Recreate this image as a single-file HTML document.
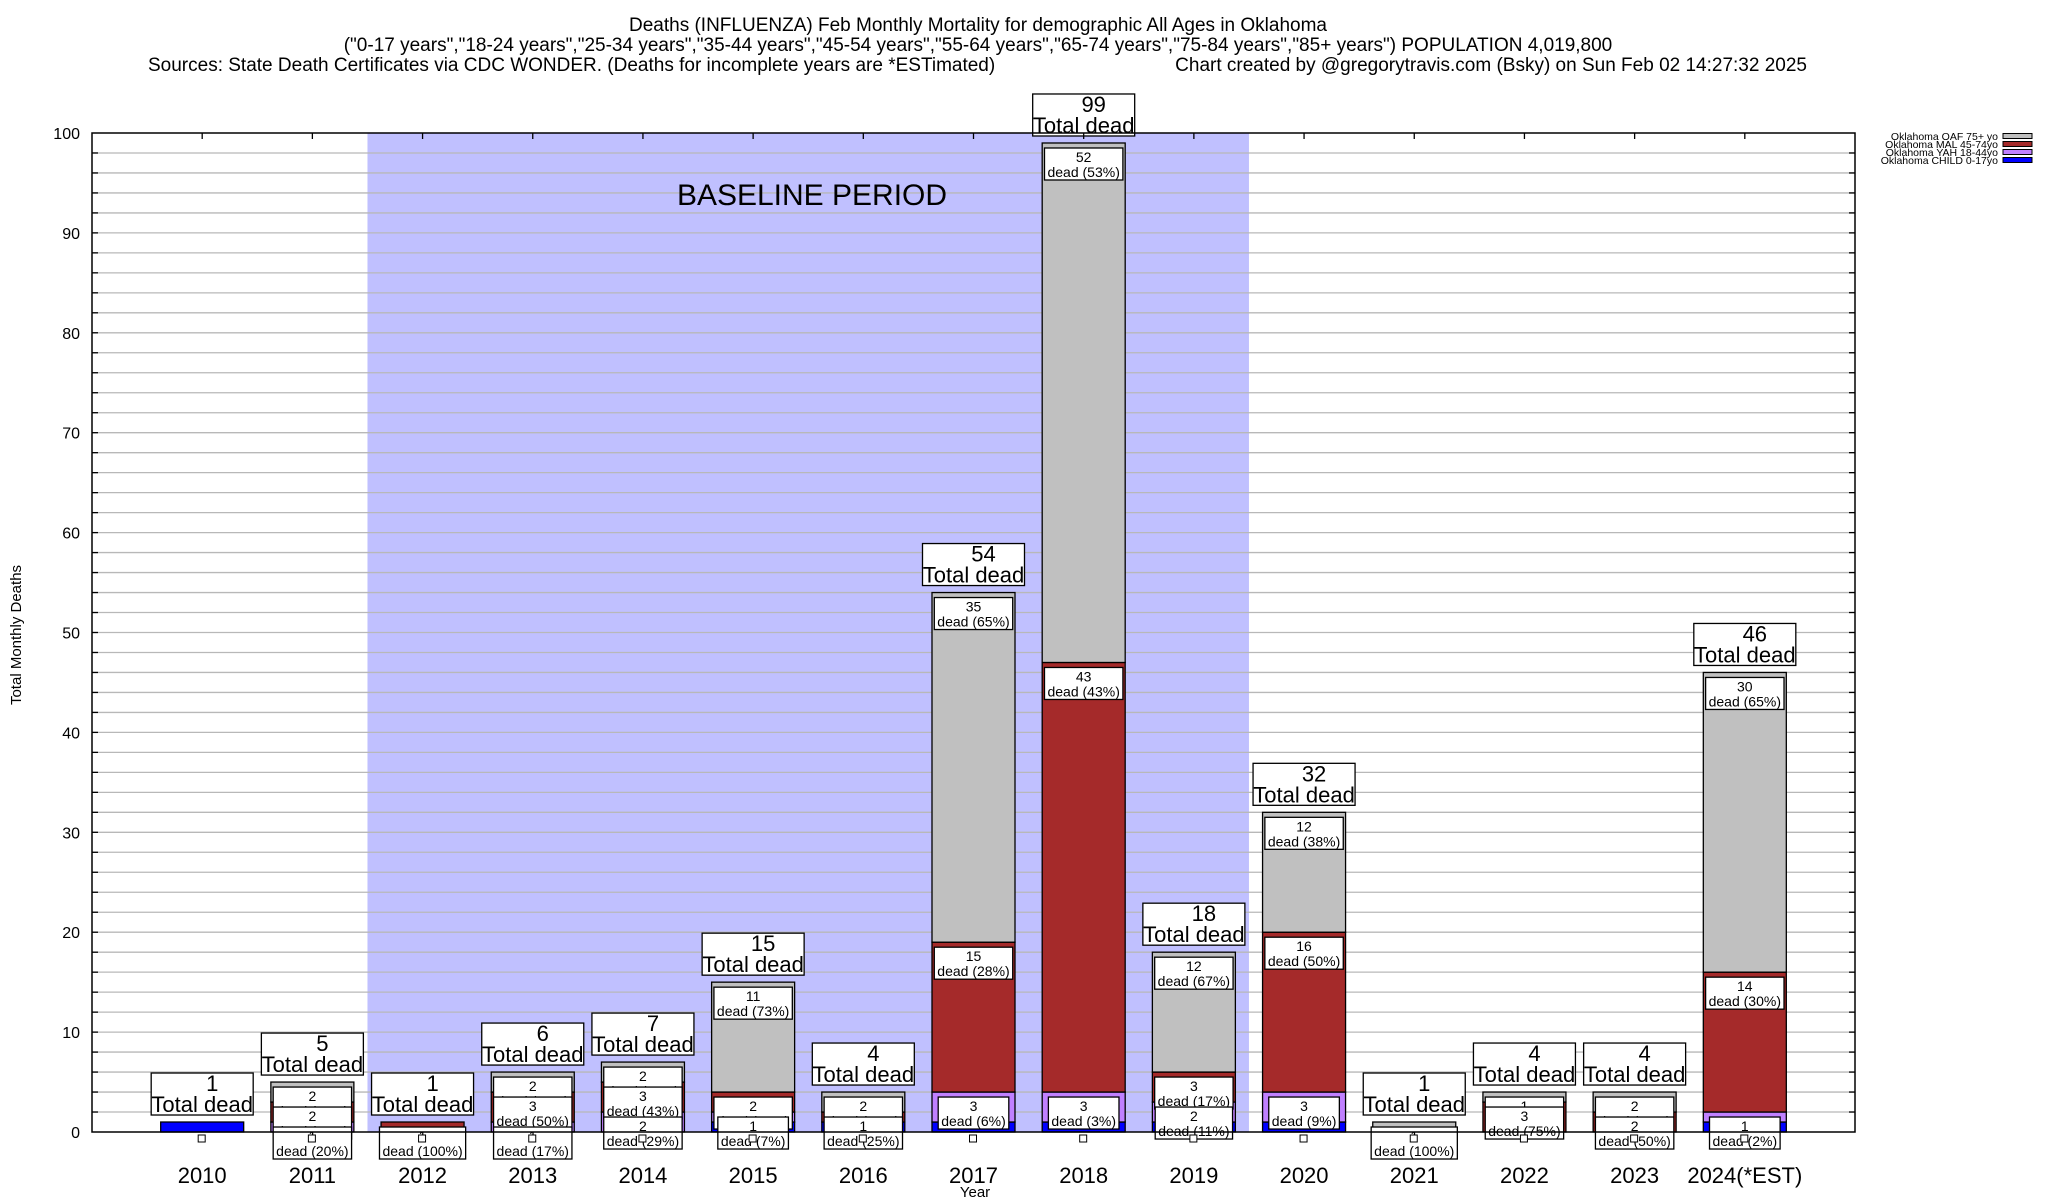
<!DOCTYPE html>
<html><head><meta charset="utf-8"><style>
html,body{margin:0;padding:0;background:#fff;}
svg{display:block;font-family:"Liberation Sans",Arial,sans-serif;}
</style></head><body>
<svg id="chart" width="2048" height="1200" viewBox="0 0 2048 1200" xmlns="http://www.w3.org/2000/svg">
<g font-size="19" fill="#000">
<text x="978" y="31" text-anchor="middle">Deaths (INFLUENZA) Feb Monthly Mortality for demographic All Ages in Oklahoma</text>
<text x="978" y="51" text-anchor="middle">("0-17 years","18-24 years","25-34 years","35-44 years","45-54 years","55-64 years","65-74 years","75-84 years","85+ years") POPULATION 4,019,800</text>
<text x="148" y="71">Sources: State Death Certificates via CDC WONDER. (Deaths for incomplete years are *ESTimated)</text>
<text x="1807" y="71" text-anchor="end">Chart created by @gregorytravis.com (Bsky) on Sun Feb 02 14:27:32 2025</text>
</g>
<g id="plot"></g>
</svg>
<script>
const categories = ["2010","2011","2012","2013","2014","2015","2016","2017","2018","2019","2020","2021","2022","2023","2024(*EST)"];
const child = [1,0,0,0,0,1,1,1,1,1,1,0,0,0,1];
const yah   = [0,1,0,1,2,1,0,3,3,2,3,0,0,0,1];
const mal   = [0,2,1,3,3,2,1,15,43,3,16,0,3,2,14];
const oaf   = [0,2,0,2,2,11,2,35,52,12,12,1,1,2,30];
const yTicks = [0,10,20,30,40,50,60,70,80,90,100];
const baselineRange = [2012, 2019];
const seriesNames = ["Oklahoma OAF 75+ yo","Oklahoma MAL 45-74yo","Oklahoma YAH 18-44yo","Oklahoma CHILD 0-17yo"];

const NS="http://www.w3.org/2000/svg";
const L=92,R=1855,T=133,B=1132;
const xS=i=>L+(i+1)*(R-L)/16;
const yS=v=>B-(v/100)*(B-T);
const BW=83;
const colors={oaf:"#c0c0c0",mal:"#a52a2a",yah:"#c080ff",child:"#0000ff"};
const plot=document.getElementById('plot');
function mk(tag,attrs,parent){const e=document.createElementNS(NS,tag);for(const k in attrs)e.setAttribute(k,attrs[k]);(parent||plot).appendChild(e);return e;}

const bi0=categories.indexOf(String(baselineRange[0])), bi1=categories.indexOf(String(baselineRange[1]));
const bx0=(xS(bi0)+xS(bi0-1))/2, bx1=(xS(bi1)+xS(bi1+1))/2;
const shade=mk('rect',{x:bx0,y:T,width:bx1-bx0,height:B-T,fill:"#c0c0ff"});



for(let v=2;v<100;v+=2){
  const g=mk('line',{x1:L,x2:R,y1:yS(v),y2:yS(v),stroke:"#b8b8b8","stroke-width":1.3});
  
  
  mk('line',{x1:L,x2:L+6,y1:yS(v),y2:yS(v),stroke:"#000","stroke-width":1.3});
  mk('line',{x1:R-6,x2:R,y1:yS(v),y2:yS(v),stroke:"#000","stroke-width":1.3});
}
yTicks.forEach(v=>{
  const t=mk('text',{x:80,y:yS(v)+6,"text-anchor":"end","font-size":16});
  t.textContent=v;
  
  
});
const bl=mk('text',{x:812,y:205,"text-anchor":"middle","font-size":30});
bl.textContent="BASELINE PERIOD";



const order=[["child",child],["yah",yah],["mal",mal],["oaf",oaf]];
const labelQueue=[];
categories.forEach((c,i)=>{
  const cx=xS(i);
  let base=0;
  const total=child[i]+yah[i]+mal[i]+oaf[i];
  const segs=[];
  order.forEach(([k,arr])=>{
    const v=arr[i]; if(!v) return;
    const r=mk('rect',{x:cx-BW/2,y:yS(base+v),width:BW,height:yS(base)-yS(base+v),fill:colors[k],stroke:"#000","stroke-width":1.3});
    
    
    if(k!=="child") segs.push({k,v,top:base+v});
    base+=v;
  });
  segs.slice().reverse().forEach(s=>labelQueue.push({cx,s,total,c}));
  const tb=yS(total)-7;
  const box=mk('rect',{x:cx-51,y:tb-42,width:102,height:42,fill:"#fff",stroke:"#000","stroke-width":1.3});
  
  
  const t1=mk('text',{x:cx+10,y:tb-24,"text-anchor":"middle","font-size":22});t1.textContent=total;
  
  
  const t2=mk('text',{x:cx,y:tb-3,"text-anchor":"middle","font-size":22});t2.textContent="Total dead";
  
  
  const xl=mk('text',{x:cx,y:1183,"text-anchor":"middle","font-size":22});xl.textContent=c;
  
  
  mk('line',{x1:cx,x2:cx,y1:T,y2:T+6,stroke:"#000","stroke-width":1.3});
});
labelQueue.forEach(({cx,s,total})=>{
  const y0=yS(s.top)+5;
  const g=mk('g',{});
  
  
  const pct=Math.round(s.v/total*100);
  const rect=mk('rect',{x:cx-36,y:y0,width:72,height:32,fill:"#fff",stroke:"#000","stroke-width":1.3},g);
  const a=mk('text',{x:cx,y:y0+14,"text-anchor":"middle","font-size":14},g);a.textContent=s.v;
  const b=mk('text',{x:cx,y:y0+29,"text-anchor":"middle","font-size":14},g);b.textContent="dead ("+pct+"%)";
  const w=b.getComputedTextLength?b.getComputedTextLength()+6:72;
  rect.setAttribute('x',cx-w/2);rect.setAttribute('width',w);
});
categories.forEach((c,i)=>{
  const m=mk('rect',{x:xS(i)-4,y:B+3,width:7,height:7,fill:"#fff",stroke:"#000","stroke-width":1});
  
  
});
const fr=mk('rect',{x:L,y:T,width:R-L,height:B-T,fill:"none",stroke:"#000","stroke-width":1.5});


const xt=mk('text',{x:975,y:1197,"text-anchor":"middle","font-size":15});xt.textContent="Year";


const yt=mk('text',{x:0,y:0,"text-anchor":"middle","font-size":15,transform:"translate(21,635) rotate(-90)"});yt.textContent="Total Monthly Deaths";


const lc=[colors.oaf,colors.mal,colors.yah,colors.child];
seriesNames.forEach((n,j)=>{
  const y=136+j*8;
  const g=mk('g',{});
  
  
  const t=mk('text',{x:1998,y:y+4,"text-anchor":"end","font-size":10.5},g);t.textContent=n;
  mk('rect',{x:2003,y:y-2.5,width:29,height:5,fill:lc[j],stroke:"#000","stroke-width":1},g);
});
</script>
</body></html>
